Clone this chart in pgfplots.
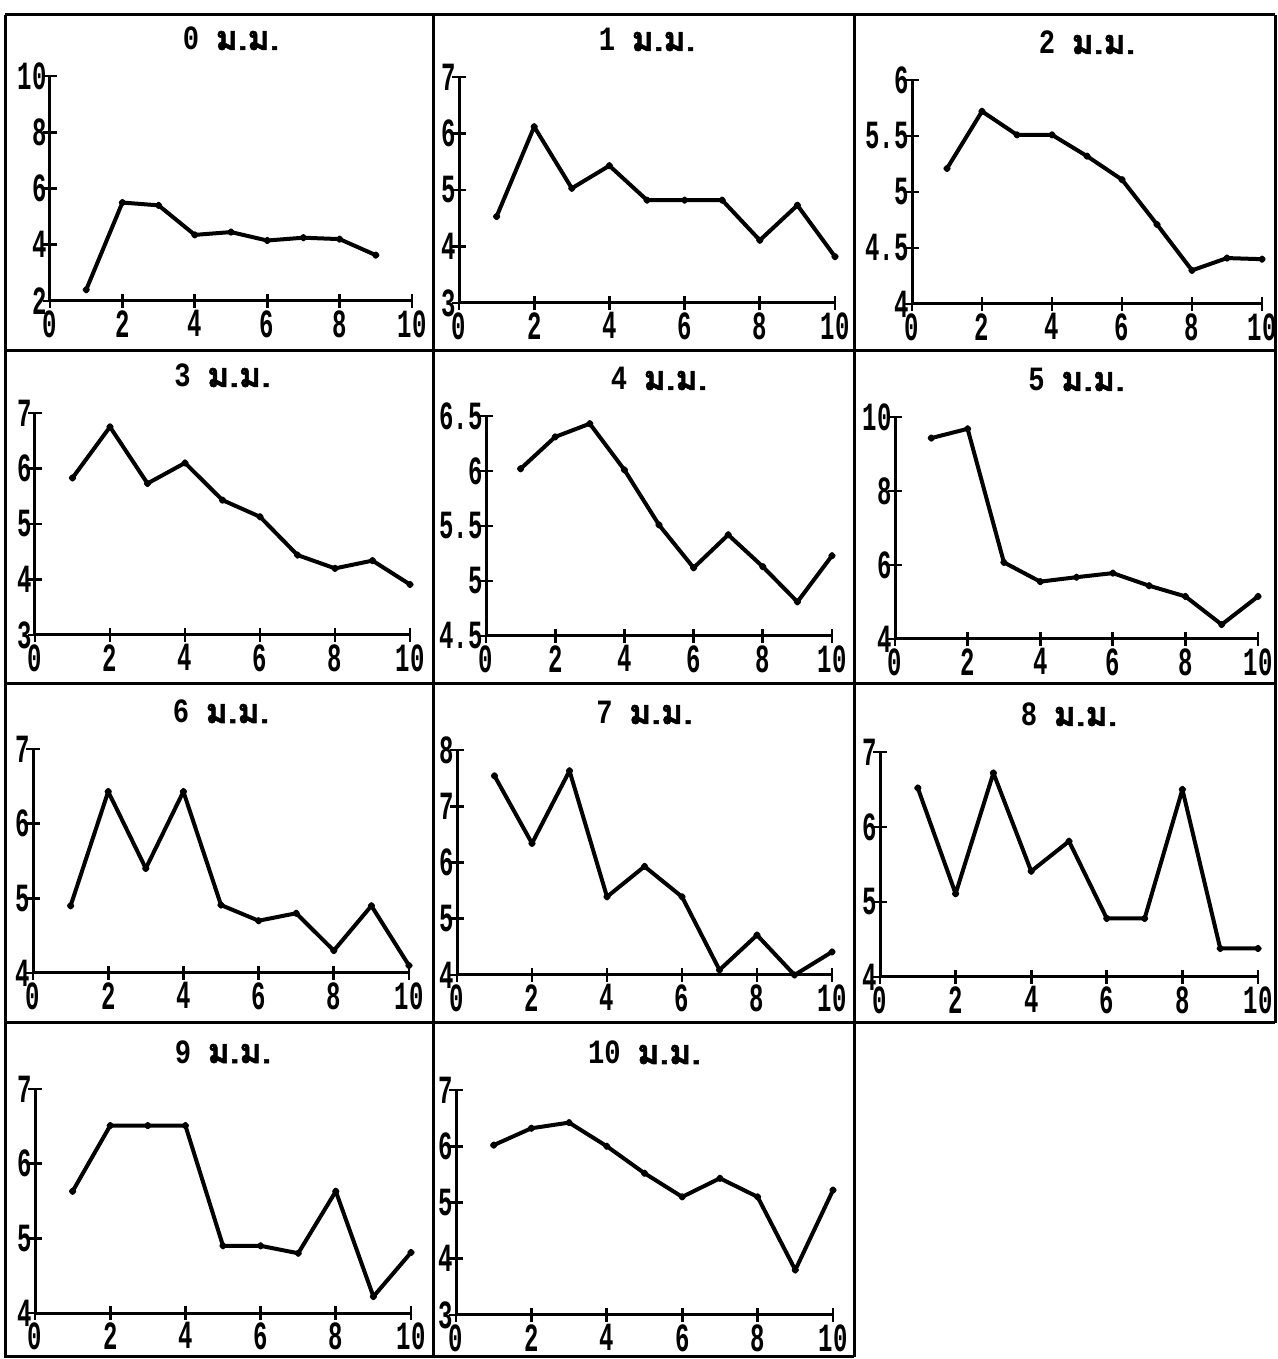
\documentclass[border=0pt]{standalone}
\usepackage{fontspec}
\usepackage{pgfplots}
\pgfplotsset{compat=1.18}
\newfontfamily\dotfont[FakeStretch=0.6]{Liberation Mono}
\newfontfamily\titledot[FakeStretch=0.8]{Liberation Mono}
\newfontfamily\thaifont[Script=Thai,FakeBold=1.5]{Loma}
\newcommand\tickfont{\dotfont\bfseries\fontsize{20}{20}\selectfont}
\newcommand\titlefont{\titledot\bfseries\fontsize{17}{17}\selectfont}
\pgfplotsset{panel/.style={
  scale only axis, anchor=south west, clip=false,
  axis x line=bottom, axis y line=left,
  axis line style={-, line width=1.5pt, black},
  xmin=0, xmax=10, xtick={0,2,...,10},
  every tick/.append style={line width=1.4pt, black},
  major tick length=7pt, tick align=center,
  /pgf/number format/assume math mode=true,
  ticklabel style={font=\tickfont},
  xticklabel style={inner sep=0pt, anchor=north, yshift=-1pt},
  yticklabel style={inner sep=0pt, anchor=east, xshift=2pt},
  title style={at={(0.5,1)}, anchor=base, yshift=7pt, font=\titlefont},
}}
\newcommand\panel[9]{%
\begin{axis}[panel, at={(#1pt,#2pt)}, width=#3pt, height=#4pt,
  ymin=#5, ymax=#6, ytick={#7}, title={#8 {\thaifont ม.ม.}}]
\addplot[black, line width=2pt, line join=round, mark=*, mark size=0.8pt] coordinates {#9};
\end{axis}}
\begin{document}
\begin{tikzpicture}
\useasboundingbox (0,0) rectangle (639pt,679.5pt);
\fill[white] (0,0) rectangle (639pt,679.5pt);
% grid frame
\draw[line width=1.5pt] (2.5pt,672pt) -- (637.5pt,672pt);
\draw[line width=1.5pt] (2.5pt,672pt) -- (2.5pt,1pt) -- (427pt,1pt);
\draw[line width=1.5pt] (216.5pt,672pt) -- (216.5pt,1pt);
\draw[line width=1.5pt] (427pt,672pt) -- (427pt,1pt);
\draw[line width=1.5pt] (637.5pt,672pt) -- (637.5pt,168pt);
\draw[line width=1.5pt] (2.5pt,504pt) -- (637.5pt,504pt);
\draw[line width=1.5pt] (2.5pt,337.5pt) -- (637.5pt,337.5pt);
\draw[line width=1.5pt] (2.5pt,168pt) -- (637.5pt,168pt);
% row 1
\panel{25}{529}{181}{112.5}{2}{10}{2,4,6,8,10}{0}{(1,2.4) (2,5.5) (3,5.4) (4,4.35) (5,4.45) (6,4.15) (7,4.25) (8,4.2) (9,3.63)}
\panel{229.5}{528}{188}{113}{3}{7}{3,4,5,6,7}{1}{(1,4.53) (2,6.12) (3,5.03) (4,5.43) (5,4.82) (6,4.82) (7,4.82) (8,4.11) (9,4.73) (10,3.82)}
\panel{456}{527.5}{175}{112}{4}{6}{4,4.5,5,5.5,6}{2}{(1,5.21) (2,5.72) (3,5.51) (4,5.51) (5,5.32) (6,5.11) (7,4.71) (8,4.30) (9,4.41) (10,4.40)}
% row 2
\panel{17.5}{362}{187.5}{111}{3}{7}{3,4,5,6,7}{3}{(1,5.83) (2,6.75) (3,5.73) (4,6.10) (5,5.43) (6,5.13) (7,4.44) (8,4.20) (9,4.34) (10,3.91)}
\panel{243}{361.5}{173}{110}{4.5}{6.5}{4.5,5,5.5,6,6.5}{4}{(1,6.02) (2,6.31) (3,6.43) (4,6.01) (5,5.51) (6,5.12) (7,5.42) (8,5.13) (9,4.81) (10,5.23)}
\panel{447.5}{360}{181.5}{111}{4}{10}{4,6,8,10}{5}{(1,9.43) (2,9.68) (3,6.07) (4,5.55) (5,5.67) (6,5.78) (7,5.44) (8,5.15) (9,4.39) (10,5.15)}
% row 3
\panel{16.5}{193}{188}{112}{4}{7}{4,5,6,7}{6}{(1,4.90) (2,6.43) (3,5.40) (4,6.43) (5,4.91) (6,4.70) (7,4.80) (8,4.30) (9,4.90) (10,4.10)}
\panel{228.5}{192}{187.5}{112.5}{4}{8}{4,5,6,7,8}{7}{(1,7.54) (2,6.34) (3,7.63) (4,5.39) (5,5.93) (6,5.39) (7,4.09) (8,4.71) (9,4.0) (10,4.41)}
\panel{440}{191}{189}{112.5}{4}{7}{4,5,6,7}{8}{(1,6.52) (2,5.11) (3,6.72) (4,5.41) (5,5.81) (6,4.78) (7,4.78) (8,6.50) (9,4.38) (10,4.38)}
% row 4
\panel{17.5}{23}{188}{112}{4}{7}{4,5,6,7}{9}{(1,5.63) (2,6.51) (3,6.51) (4,6.51) (5,4.90) (6,4.90) (7,4.80) (8,5.63) (9,4.22) (10,4.81)}
\panel{228}{22}{188.5}{112.5}{3}{7}{3,4,5,6,7}{10}{(1,6.02) (2,6.32) (3,6.42) (4,6.0) (5,5.52) (6,5.10) (7,5.43) (8,5.10) (9,3.80) (10,5.22)}
\end{tikzpicture}
\end{document}
